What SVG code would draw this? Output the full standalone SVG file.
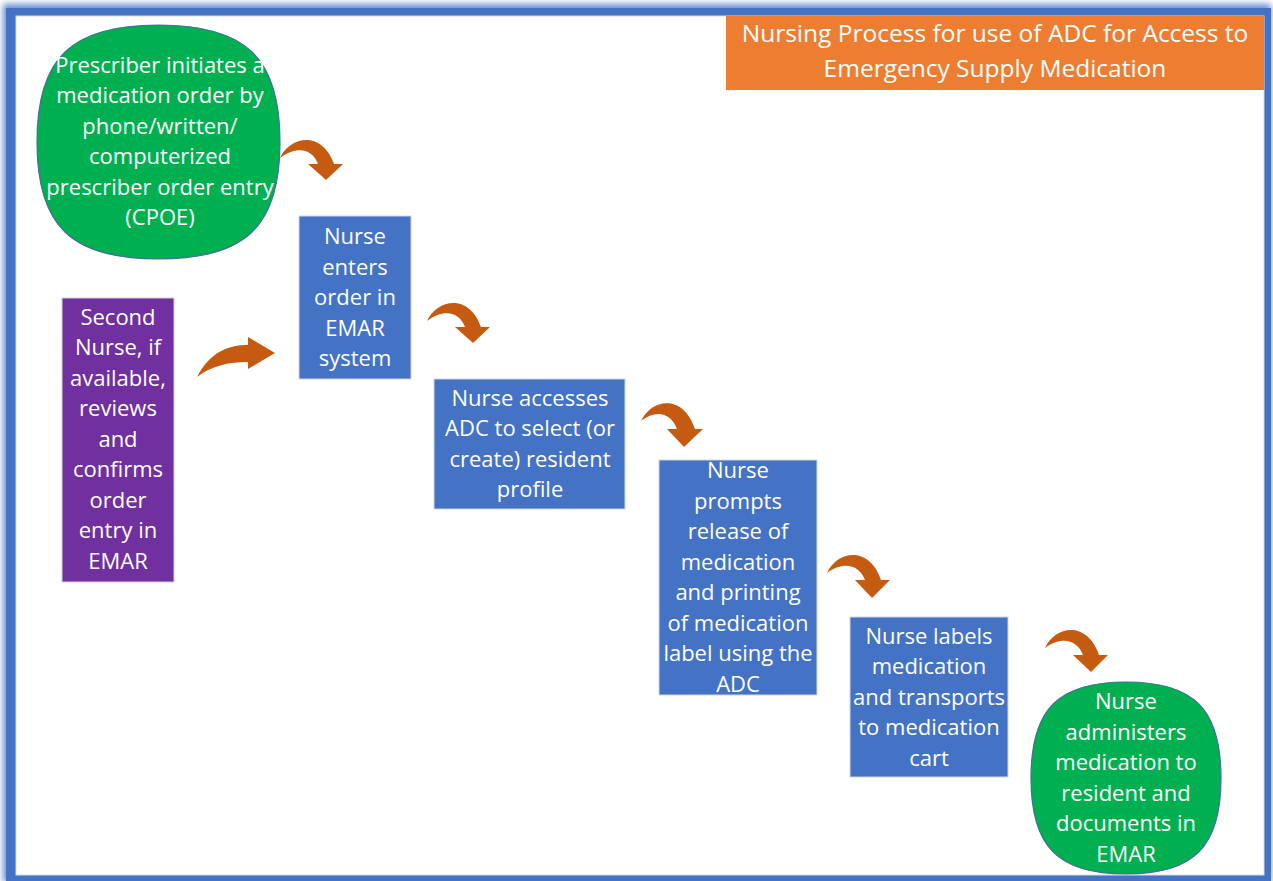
<svg xmlns="http://www.w3.org/2000/svg" width="1273" height="881" viewBox="0 0 1273 881">
<defs>
<filter id="glow" x="-5%" y="-5%" width="110%" height="110%"><feGaussianBlur stdDeviation="3"/></filter>
<style>
text{font-family:"Open Sans","Liberation Sans",sans-serif;font-size:22px;fill:#ffffff;text-anchor:middle}
.title{font-size:24.5px}
.blue{fill:#4472C4;stroke:#d0d6e2;stroke-width:1}
.purple{fill:#7030A0;stroke:#d0d0d0;stroke-width:1}
.green{fill:#00B050;stroke:#41719C;stroke-width:1.2}
.arrow{fill:#C55A11}
</style>
</defs>
<rect x="0" y="0" width="1273" height="881" fill="#ffffff"/>
<g id="frame">
<rect x="3" y="4" width="1268" height="878" fill="#4472C4" filter="url(#glow)" opacity="0.8"/>
<rect x="6" y="8" width="1265" height="873" fill="#4472C4"/>
<rect x="16" y="16" width="1248" height="859" fill="#ffffff" stroke="#d9d9d9" stroke-width="1"/>
</g>
<g id="title">
<rect x="726" y="16" width="538" height="74" fill="#ED7D31"/>
<text class="title" x="995" y="42">Nursing Process for use of ADC for Access to</text>
<text class="title" x="995" y="77">Emergency Supply Medication</text>
</g>
<g id="connectors">
<path class="arrow" d="M280,158 C290,136 322,130 334,164 L343,164 L326,180 L308,164 L318,164 C312,148 296,146 280,158 Z"/>
<path class="arrow" d="M197,377 C210,352 228,345 248,345 L248,337 L275,353 L248,369 L248,362 C228,362 211,366 197,377 Z"/>
<path class="arrow" d="M427,321 C437,299 469,293 481,327 L490,327 L473,343 L455,327 L465,327 C459,311 443,309 427,321 Z"/>
<path class="arrow" d="M641,421 C651,399 683,393 695,429 L703,429 L684,447 L667,429 L677,429 C671,413 656,409 641,421 Z"/>
<path class="arrow" d="M827,573 C837,551 869,545 881,580 L890,580 L872,598 L855,580 L865,580 C859,564 843,561 827,573 Z"/>
<path class="arrow" d="M1045,648 C1055,626 1087,620 1099,655 L1108,655 L1091,672 L1073,655 L1083,655 C1077,639 1061,636 1045,648 Z"/>
</g>
<g id="node-prescriber">
<path class="green" d="M158.5,25 C246,25 280,58 280,142 C280,226 246,259 158.5,259 C71,259 37,226 37,142 C37,58 71,25 158.5,25 Z"/>
<text x="160" y="73">Prescriber initiates a</text>
<text x="160" y="103">medication order by</text>
<text x="160" y="134">phone/written/</text>
<text x="160" y="164">computerized</text>
<text x="160" y="195">prescriber order entry</text>
<text x="160" y="225">(CPOE)</text>
</g>
<g id="node-second-nurse">
<rect class="purple" x="62" y="298" width="112" height="284"/>
<text x="118" y="325">Second</text>
<text x="118" y="355">Nurse, if</text>
<text x="118" y="386">available,</text>
<text x="118" y="416">reviews</text>
<text x="118" y="447">and</text>
<text x="118" y="477">confirms</text>
<text x="118" y="508">order</text>
<text x="118" y="538">entry in</text>
<text x="118" y="569">EMAR</text>
</g>
<g id="node-enter-order">
<rect class="blue" x="299" y="216" width="112" height="163"/>
<text x="355" y="244">Nurse</text>
<text x="355" y="275">enters</text>
<text x="355" y="305">order in</text>
<text x="355" y="336">EMAR</text>
<text x="355" y="366">system</text>
</g>
<g id="node-access-adc">
<rect class="blue" x="434" y="379" width="191" height="130"/>
<text x="530" y="406">Nurse accesses</text>
<text x="530" y="436">ADC to select (or</text>
<text x="530" y="467">create) resident</text>
<text x="530" y="497">profile</text>
</g>
<g id="node-prompt-release">
<rect class="blue" x="659" y="460" width="158" height="235"/>
<text x="738" y="478">Nurse</text>
<text x="738" y="509">prompts</text>
<text x="738" y="539">release of</text>
<text x="738" y="570">medication</text>
<text x="738" y="600">and printing</text>
<text x="738" y="631">of medication</text>
<text x="738" y="661">label using the</text>
<text x="738" y="692">ADC</text>
</g>
<g id="node-label-transport">
<rect class="blue" x="850" y="617" width="158" height="160"/>
<text x="929" y="644">Nurse labels</text>
<text x="929" y="674">medication</text>
<text x="929" y="705">and transports</text>
<text x="929" y="735">to medication</text>
<text x="929" y="766">cart</text>
</g>
<g id="node-administer">
<path class="green" d="M1126,682 C1194,682 1221,709 1221,778 C1221,847 1194,874 1126,874 C1058,874 1031,847 1031,778 C1031,709 1058,682 1126,682 Z"/>
<text x="1126" y="709">Nurse</text>
<text x="1126" y="740">administers</text>
<text x="1126" y="770">medication to</text>
<text x="1126" y="801">resident and</text>
<text x="1126" y="831">documents in</text>
<text x="1126" y="862">EMAR</text>
</g>
</svg>
